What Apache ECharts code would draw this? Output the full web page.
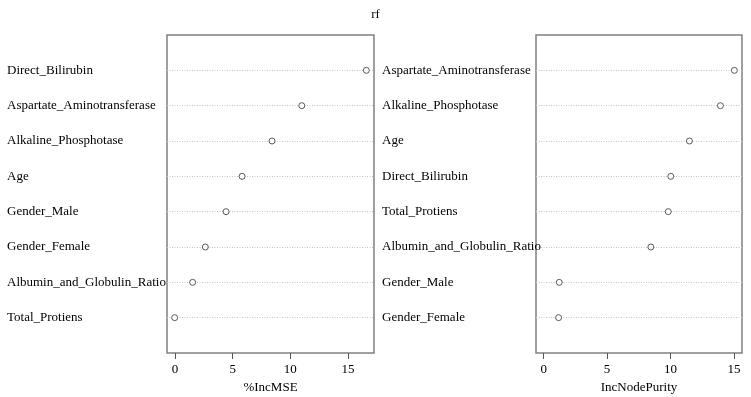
<!DOCTYPE html>
<html>
<head>
<meta charset="utf-8">
<script src="https://cdn.jsdelivr.net/npm/echarts@6/dist/echarts.min.js"></script>
<style>
  html, body { margin: 0; padding: 0; background: #fff; }
  #chart { width: 751px; height: 397px; }
</style>
</head>
<body>
<div id="chart"></div>
<script>
// %IncMSE panel (top to bottom)
const mseNames = ['Direct_Bilirubin', 'Aspartate_Aminotransferase', 'Alkaline_Phosphotase', 'Age',
    'Gender_Male', 'Gender_Female', 'Albumin_and_Globulin_Ratio', 'Total_Protiens'];
const mseValues = [16.6, 11.0, 8.42, 5.82, 4.43, 2.63, 1.53, -0.03];

// IncNodePurity panel (top to bottom)
const purityNames = ['Aspartate_Aminotransferase', 'Alkaline_Phosphotase', 'Age', 'Direct_Bilirubin',
    'Total_Protiens', 'Albumin_and_Globulin_Ratio', 'Gender_Male', 'Gender_Female'];
const purityValues = [15.03, 13.93, 11.49, 10.02, 9.82, 8.45, 1.23, 1.18];

const xTicks = [0, 5, 10, 15];
const rowIdx = mseNames.map((_, i) => i + 1);

const font = 'Liberation Serif, Times New Roman, serif';

// R style range: extend 4% each side
function rRange(lo, hi) {
    const pad = (hi - lo) * 0.04;
    return [lo - pad, hi + pad];
}
const mseRange = rRange(Math.min(...mseValues), Math.max(...mseValues));
const purityRange = rRange(0, Math.max(...purityValues));

function yAxisFor(gridIndex, names, margin) {
    return {
        type: 'value', gridIndex: gridIndex, min: 0, max: names.length + 1, inverse: true,
        axisLine: { show: false },
        axisTick: { show: false, customValues: rowIdx },
        axisLabel: {
            customValues: rowIdx, align: 'left', margin: margin,
            color: '#000', fontFamily: font, fontSize: 13,
            formatter: v => names[v - 1] || ''
        },
        splitLine: { show: true, lineStyle: { color: '#c4c4c4', type: [1, 1.5], width: 1 } }
    };
}

function xAxisFor(gridIndex, range, name) {
    return {
        type: 'value', gridIndex: gridIndex, min: range[0], max: range[1], position: 'bottom',
        name: name, nameLocation: 'middle', nameGap: 27,
        nameTextStyle: { color: '#000', fontFamily: font, fontSize: 13 },
        axisLine: { show: false, onZero: false },
        axisTick: { show: true, length: 6, customValues: xTicks, lineStyle: { color: '#555' } },
        axisLabel: { customValues: xTicks, margin: 10, color: '#000', fontFamily: font, fontSize: 13 },
        splitLine: { show: false }
    };
}

const gridBase = { top: 35, bottom: 44, show: true, borderColor: '#808080', borderWidth: 1.5,
    containLabel: false, outerBoundsMode: 'none' };

const chart = echarts.init(document.getElementById('chart'), null, { renderer: 'canvas' });
chart.setOption({
    animation: false,
    backgroundColor: '#fff',
    title: {
        text: 'rf', left: 'center', top: 3,
        textStyle: { fontFamily: font, fontSize: 13, fontWeight: 'normal', color: '#000' }
    },
    grid: [
        Object.assign({ left: 167, right: 377 }, gridBase),
        Object.assign({ left: 536, right: 9 }, gridBase)
    ],
    xAxis: [
        xAxisFor(0, mseRange, '%IncMSE'),
        xAxisFor(1, purityRange, 'IncNodePurity')
    ],
    yAxis: [
        yAxisFor(0, mseNames, 160),
        yAxisFor(1, purityNames, 154)
    ],
    series: [
        {
            type: 'scatter', xAxisIndex: 0, yAxisIndex: 0, symbol: 'circle', symbolSize: 6,
            itemStyle: { color: '#fff', borderColor: '#333', borderWidth: 1 },
            data: mseValues.map((v, i) => [v, rowIdx[i]])
        },
        {
            type: 'scatter', xAxisIndex: 1, yAxisIndex: 1, symbol: 'circle', symbolSize: 6,
            itemStyle: { color: '#fff', borderColor: '#333', borderWidth: 1 },
            data: purityValues.map((v, i) => [v, rowIdx[i]])
        }
    ]
});
</script>
</body>
</html>
